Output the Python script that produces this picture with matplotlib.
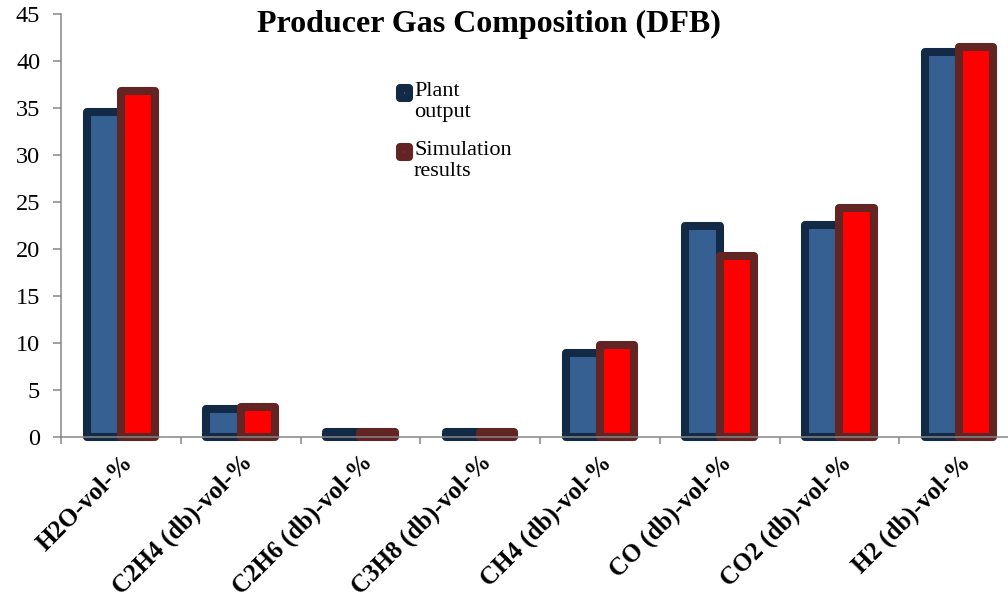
import numpy as np
import matplotlib.pyplot as plt
from matplotlib.patches import Rectangle

plt.rcParams['font.family'] = ['Liberation Serif', 'DejaVu Serif']

categories = ['H2O-vol-%', 'C2H4 (db)-vol-%', 'C2H6 (db)-vol-%', 'C3H8 (db)-vol-%',
              'CH4 (db)-vol-%', 'CO (db)-vol-%', 'CO2 (db)-vol-%', 'H2 (db)-vol-%']
plant = [34.6, 2.9, 0.5, 0.5, 8.9, 22.4, 22.6, 41.0]
simulation = [36.8, 3.2, 0.5, 0.5, 9.8, 19.2, 24.4, 41.5]
series_names = ['Plant\noutput', 'Simulation\nresults']

x = np.arange(len(categories))
w = 0.285
axis_gray = '#868686'
faces = ['#376092', '#ff0000']
edges = ['#132a47', '#632523']

W, H = 1008, 594
fig = plt.figure(figsize=(W / 100, H / 100), dpi=100)
ax = fig.add_axes([61 / W, 1 - 436.7 / H, 958 / W, 422.4 / H])

ax.bar(x - w / 2, plant, w, color=faces[0], edgecolor=edges[0],
       linewidth=5.8, joinstyle='round', clip_on=False)
ax.bar(x + w / 2, simulation, w, color=faces[1], edgecolor=edges[1],
       linewidth=5.8, joinstyle='round', clip_on=False)

ax.set_xlim(-0.5, len(categories) - 0.5)
ax.set_ylim(0, 45)
ax.set_yticks(np.arange(0, 46, 5))

for s in ['top', 'right']:
    ax.spines[s].set_visible(False)
for s in ['left', 'bottom']:
    ax.spines[s].set_color(axis_gray)
    ax.spines[s].set_linewidth(1.1)

ax.tick_params(axis='y', length=6, width=1.1, color=axis_gray, pad=9, labelsize=17.5)
ax.set_xticks(x)
ax.set_xticks(np.arange(-0.5, len(categories), 1), minor=True)
ax.tick_params(axis='x', which='major', length=0, pad=10)
ax.tick_params(axis='x', which='minor', length=5, width=1.1, color=axis_gray)
ax.set_xticklabels(categories, rotation=45, ha='right', rotation_mode='anchor',
                   fontsize=18, fontweight='bold')

fig.text(489 / W, 1 - 32 / H, 'Producer Gas Composition (DFB)',
         ha='center', va='baseline', fontsize=23, fontweight='bold')

# legend drawn by hand: marker sits beside the first line of each label
for i, name in enumerate(series_names):
    top = 88 + i * 59
    fig.patches.append(Rectangle((400 / W, 1 - (top + 10) / H), 9 / W, 10 / H,
                                 transform=fig.transFigure, facecolor=faces[i],
                                 edgecolor=edges[i], linewidth=5.8, joinstyle='round'))
    fig.text(414 / W, 1 - (top - 6) / H, name, ha='left', va='top',
             fontsize=16, linespacing=1.15)

fig.savefig('out.png', dpi=100)
